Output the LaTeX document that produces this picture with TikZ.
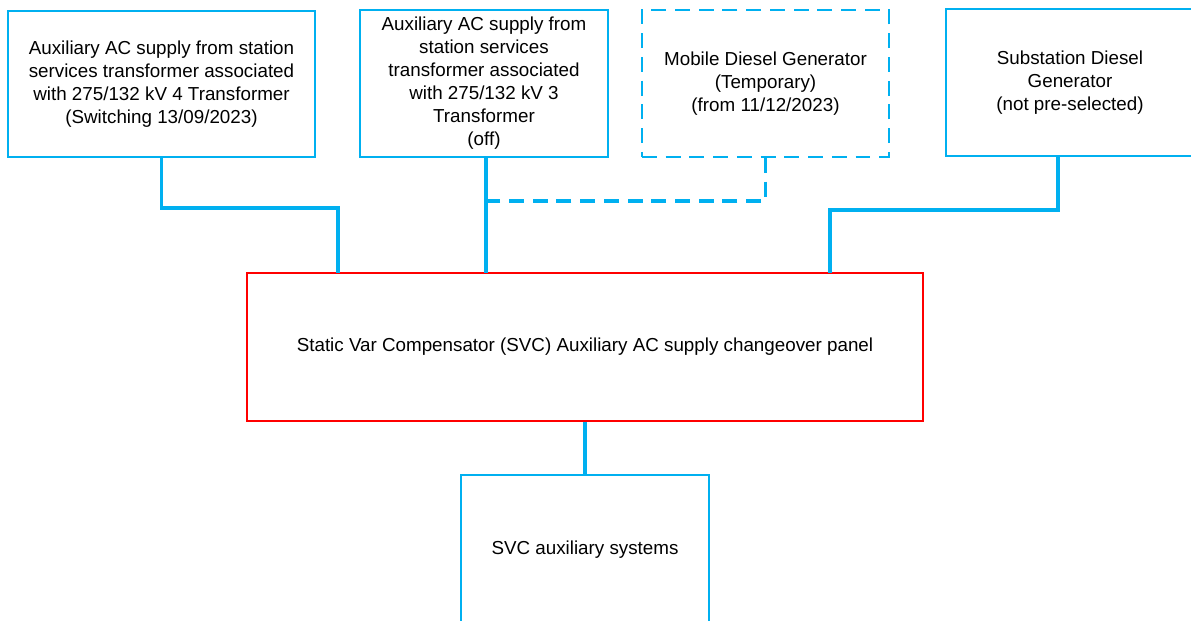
\documentclass[tikz,border=0pt]{standalone}
\usepackage{fontspec}
\setmainfont{Liberation Sans}
\usepackage{tikz}
\usetikzlibrary{calc,positioning}
\definecolor{supplyblue}{RGB}{0,176,240}
\definecolor{panelred}{RGB}{255,0,0}
\tikzset{source box/.style={rectangle,draw=supplyblue,line width=1.1pt,align=center,inner sep=2pt,
  font=\fontsize{10.7pt}{13.1pt}\selectfont,minimum width=4.96cm,minimum height=2.94cm},
  temp box/.style={source box,dash pattern=on 8.5pt off 5pt},
  panel box/.style={source box,draw=panelred,minimum width=13.52cm,minimum height=2.96cm},
  feed/.style={draw=supplyblue,line width=2.2pt},
  temp feed/.style={feed,dash pattern=on 8.5pt off 5pt}}

\begin{document}
\begin{tikzpicture}[x=0.02cm,y=-0.02cm]
        \useasboundingbox (0,0) rectangle (1191,621);
        
        \node [source box,minimum width=6.14cm,minimum height=2.92cm] (t4) at (161.5,84)
          {Auxiliary AC supply from station\\services transformer associated\\with 275/132 kV 4 Transformer\\(Switching 13/09/2023)};
        \node [source box] (t3) at (484,83.5)
          {Auxiliary AC supply from\\station services\\transformer associated\\with 275/132 kV 3\\Transformer\\(off)};
        \node [temp box,minimum width=4.94cm] (mobile) at (765.5,83.5)
          {Mobile Diesel Generator\\(Temporary)\\(from 11/12/2023)};
        \node [source box] (diesel) at (1070,82.5)
          {Substation Diesel\\Generator\\(not pre-selected)};
        
        \node [panel box] (panel) at (585,347)
          {Static Var Compensator (SVC) Auxiliary AC supply changeover panel};
        \node [source box,minimum height=3cm] (svc) at (585,550) {SVC auxiliary systems};
        
        \coordinate (in4) at (338,273);
        \coordinate (in3) at (486,273);
        \coordinate (tee) at (486,201);
        \coordinate (indg) at (830,273);
        
        \draw [feed] (t4.south) -- ++(0,50) -| (in4);
        \draw [feed] (in3 |- t3.south) -- (in3);
        \draw [temp feed] (mobile.south) |- (tee);
        \draw [feed] ([xshift=-0.24cm]diesel.south) -- ++(0,53) -| (indg);
        \draw [feed] (panel.south) -- (svc.north);
        \end{tikzpicture}
\end{document}
